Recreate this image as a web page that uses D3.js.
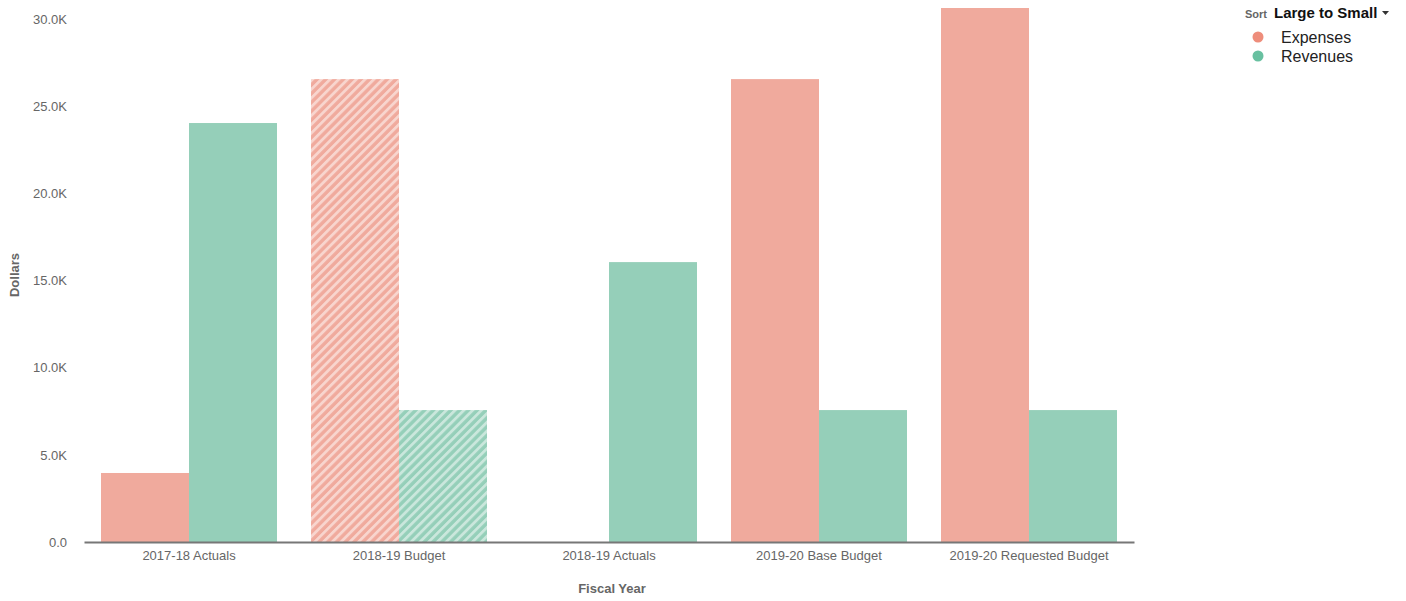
<!DOCTYPE html>
<html>
<head>
<meta charset="utf-8">
<script src="https://cdn.jsdelivr.net/npm/d3@7"></script>
<style>
  body { margin: 0; background: #fff; font-family: "Liberation Sans", Arial, sans-serif; }
</style>
</head>
<body>
<div id="chart"></div>
<script>
var years = ["2017-18 Actuals", "2018-19 Budget", "2018-19 Actuals", "2019-20 Base Budget", "2019-20 Requested Budget"];
var seriesNames = ["Expenses", "Revenues"];
var expenses = [3960, 26560, 0, 26560, 30640];
var revenues = [24040, 7570, 16060, 7570, 7570];
var budgetYears = ["2018-19 Budget"];   // drawn hatched
var yTicks = [0, 5000, 10000, 15000, 20000, 25000, 30000];

function init() {
    var w = 1406, h = 601;
    var left = 84, right = 1134, top = 8, bottom = 542;

    var colors = { Expenses: "#f0aa9d", Revenues: "#95cfb9" };
    var dotColors = { Expenses: "#ee8d7b", Revenues: "#68c0a0" };

    var svg = d3.select("#chart").append("svg")
        .attr("width", w)
        .attr("height", h);

    var defs = svg.append("defs");
    seriesNames.forEach(function (s) {
        var p = defs.append("pattern")
            .attr("id", "hatch-" + s)
            .attr("patternUnits", "userSpaceOnUse")
            .attr("width", 6.2)
            .attr("height", 6.2)
            .attr("patternTransform", "rotate(45)");
        p.append("rect").attr("width", 6.2).attr("height", 6.2).attr("fill", colors[s]);
        p.append("rect").attr("width", 2.8).attr("height", 6.2).attr("fill", "#fff").attr("opacity", 0.5);
    });

    var x = d3.scaleBand().domain(years).range([left, right])
        .paddingInner(0.162).paddingOuter(0.081);
    var x1 = d3.scaleBand().domain(seriesNames).range([0, x.bandwidth()]);
    var y = d3.scaleLinear().domain([0, 30640]).range([bottom, top]);

    var rows = years.map(function (yr, i) {
        return { year: yr, values: [{ s: "Expenses", v: expenses[i] }, { s: "Revenues", v: revenues[i] }] };
    });

    var g = svg.selectAll("g.year")
        .data(rows)
        .enter().append("g")
        .attr("transform", function (d) { return "translate(" + x(d.year) + ",0)"; });

    g.selectAll("rect")
        .data(function (d) { return d.values.map(function (v) { return { year: d.year, s: v.s, v: v.v }; }); })
        .enter().append("rect")
        .attr("x", function (d) { return x1(d.s); })
        .attr("width", x1.bandwidth())
        .attr("y", function (d) { return y(d.v); })
        .attr("height", function (d) { return bottom - y(d.v); })
        .attr("fill", function (d) {
            if (budgetYears.indexOf(d.year) >= 0) return "url(#hatch-" + d.s + ")";
            return colors[d.s];
        });

    // y axis labels
    var yAxis = svg.append("g")
        .attr("transform", "translate(70,0)")
        .call(d3.axisLeft(y).tickValues(yTicks).tickSize(0)
            .tickFormat(function (d) { return d === 0 ? "0.0" : d3.format(".1f")(d / 1000) + "K"; }));
    yAxis.select(".domain").remove();
    yAxis.selectAll("text").attr("fill", "#666").style("font-size", "13px")
        .style("font-family", "Liberation Sans, Arial, sans-serif");

    // x axis
    var xAxis = svg.append("g")
        .attr("transform", "translate(0," + bottom + ")")
        .call(d3.axisBottom(x).tickSize(0).tickPadding(9));
    xAxis.select(".domain").attr("stroke", "#777").attr("stroke-width", 2);
    xAxis.selectAll("text").attr("fill", "#666").style("font-size", "13px")
        .style("font-family", "Liberation Sans, Arial, sans-serif");

    svg.append("text")
        .attr("x", (left + right) / 2 + 3)
        .attr("y", 593)
        .attr("text-anchor", "middle")
        .attr("fill", "#666")
        .style("font-size", "13px")
        .style("font-weight", "bold")
        .text("Fiscal Year");

    svg.append("text")
        .attr("transform", "translate(19,275) rotate(-90)")
        .attr("text-anchor", "middle")
        .attr("fill", "#666")
        .style("font-size", "13px")
        .style("font-weight", "bold")
        .text("Dollars");

    // legend
    var lg = svg.append("g");
    lg.append("text").attr("x", 1245).attr("y", 18)
        .attr("fill", "#666").style("font-size", "11px").style("font-weight", "bold").text("Sort");
    lg.append("text").attr("x", 1274).attr("y", 18)
        .attr("fill", "#111").style("font-size", "15px").style("font-weight", "bold").text("Large to Small");
    lg.append("path").attr("d", "M1382,11 L1389,11 L1385.5,15 Z").attr("fill", "#333");

    var items = lg.selectAll("g.item")
        .data(seriesNames)
        .enter().append("g")
        .attr("transform", function (d, i) { return "translate(0," + (37 + i * 19) + ")"; });
    items.append("circle").attr("cx", 1258).attr("cy", 0).attr("r", 5.5)
        .attr("fill", function (d) { return dotColors[d]; });
    items.append("text").attr("x", 1281).attr("y", 5.5)
        .attr("fill", "#222").style("font-size", "16px").text(function (d) { return d; });
}

window.onload = init;
</script>
</body>
</html>
